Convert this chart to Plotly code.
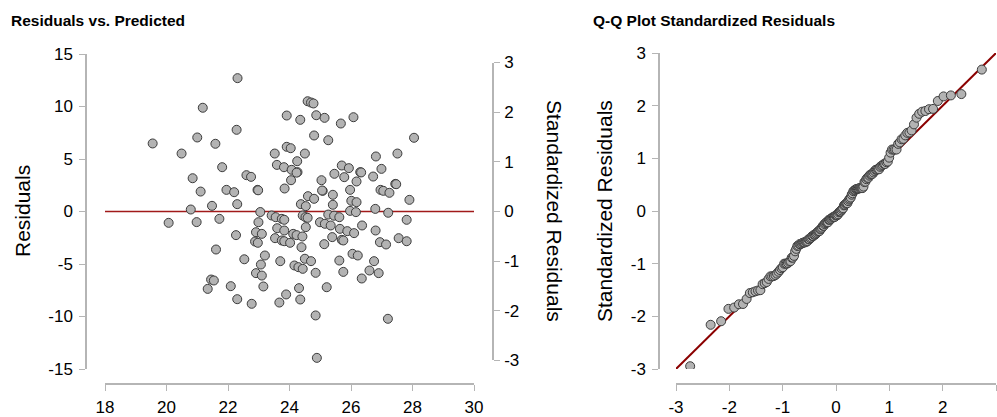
import plotly.graph_objects as go
from statistics import NormalDist

# ---- data ----
predicted = [
    22.31, 21.18, 22.28, 19.55, 21.00, 21.59, 20.49, 21.81, 20.85, 21.11,
    21.95, 22.20, 22.30, 20.79, 21.48, 20.07, 20.98, 21.72, 22.26, 21.61,
    21.45, 21.54, 21.34, 22.09, 22.30, 22.53, 24.59, 24.70, 24.78, 23.91,
    24.35, 24.87, 25.14, 24.80, 25.26, 23.91, 24.04, 23.52, 24.50, 24.25,
    23.59, 23.82, 24.07, 24.26, 24.23, 22.60, 22.75, 24.05, 25.46, 22.96,
    22.98, 23.84, 25.04, 25.08, 25.06, 24.60, 24.80, 24.37, 24.53, 25.41,
    25.41, 23.05, 26.08, 25.67, 28.05, 26.81, 27.51, 25.70, 25.93, 25.78,
    26.30, 26.33, 26.99, 26.72, 26.18, 27.44, 27.47, 25.97, 26.96, 27.05,
    27.25, 27.90, 26.01, 26.18, 25.97, 26.16, 26.79, 27.21, 23.42, 23.55,
    23.75, 23.83, 22.99, 24.43, 24.52, 24.59, 25.26, 24.99, 25.15, 25.34,
    24.53, 22.91, 23.10, 23.60, 23.83, 24.12, 24.23, 24.42, 22.88, 22.97,
    23.53, 23.75, 23.83, 24.02, 24.39, 25.13, 25.39, 23.20, 23.07, 23.70,
    24.50, 24.70, 24.16, 24.29, 24.43, 24.85, 22.91, 23.10, 23.15, 24.31,
    25.21, 22.77, 23.89, 23.67, 24.35, 24.85, 24.89, 25.45, 25.62, 27.81,
    25.64, 25.88, 26.10, 26.36, 26.80, 25.70, 25.75, 26.94, 27.14, 27.55,
    27.81, 26.05, 26.22, 25.62, 26.75, 25.75, 26.60, 26.90, 26.35, 27.20,
]
residuals = [
    12.70, 9.88, 7.78, 6.48, 7.05, 6.45, 5.52, 4.22, 3.17, 1.90,
    2.06, 1.84, 0.70, 0.19, 0.54, -1.08, -1.01, -0.70, -2.25, -3.62,
    -6.48, -6.57, -7.37, -7.11, -8.35, -4.55, 10.50, 10.38, 10.29, 9.14,
    8.73, 9.17, 8.92, 7.24, 6.79, 6.16, 6.03, 5.52, 5.52, 4.79,
    4.44, 4.22, 3.97, 3.75, 3.70, 3.46, 3.30, 2.98, 3.59, 2.06,
    2.02, 2.19, 2.98, 1.97, 2.00, 1.46, 1.21, 0.70, 0.51, 1.59,
    0.64, -0.05, 8.98, 8.38, 7.02, 5.24, 5.52, 4.38, 4.13, 3.27,
    3.75, 3.72, 4.06, 3.33, 2.86, 2.63, 2.60, 2.06, 2.06, 1.97,
    1.78, 1.11, 1.02, 0.89, 0.06, -0.06, 0.25, -0.12, -0.38, -0.54,
    -0.70, -0.79, -1.02, -0.38, -0.54, -0.60, -0.29, -1.02, -1.17, -1.33,
    -1.49, -1.97, -2.13, -1.59, -1.81, -2.13, -2.25, -2.38, -2.86, -2.98,
    -2.54, -2.76, -2.83, -2.98, -3.40, -3.11, -2.44, -4.19, -5.05, -4.73,
    -4.50, -4.73, -5.14, -5.30, -5.46, -5.84, -5.87, -6.10, -7.14, -7.30,
    -7.21, -8.79, -7.90, -8.67, -8.38, -9.90, -13.94, -0.40, -0.54, -0.79,
    -1.65, -1.87, -2.06, -1.33, -1.81, -2.70, -2.76, -2.92, -3.14, -2.54,
    -2.83, -4.03, -4.19, -4.67, -4.73, -5.75, -5.62, -5.87, -6.38, -10.22,
]
residual_sd = 4.73  # ratio of the residual and standardized axes

x_ticks_left = [18, 20, 22, 24, 26, 28, 30]
x_labels_left = ["18", "20", "22", "24", "26", "28", "30"]
y_ticks_left = [-15, -10, -5, 0, 5, 10, 15]
y_labels_left = ["-15", "-10", "-5", "0", "5", "10", "15"]
std_ticks = [-3, -2, -1, 0, 1, 2, 3]
std_labels = ["-3", "-2", "-1", "0", "1", "2", "3"]

# Q-Q data derived from the residuals
std_sorted = sorted(r / residual_sd for r in residuals)
n = len(std_sorted)
theoretical = [NormalDist().inv_cdf((i + 0.5) / n) for i in range(n)]

# ---- layout helpers ----
W, H = 997, 417
def fx(px):
    return px / W
def fy(py):
    return 1 - py / H

FONT = "Liberation Sans, Arial, sans-serif"
AXCOL = "#b5b5b5"
TICKFONT = dict(family=FONT, size=17, color="#000000")
MARKER = dict(size=9, color="#b3b3b3", line=dict(color="#3c3c3c", width=1))

fig = go.Figure()

# zero line in residual plot
fig.add_trace(go.Scatter(x=[x_ticks_left[0], x_ticks_left[-1]], y=[0, 0], mode="lines",
                         line=dict(color="#a11a1a", width=1.3), xaxis="x", yaxis="y",
                         hoverinfo="skip", showlegend=False))
fig.add_trace(go.Scatter(x=predicted, y=residuals, mode="markers", marker=MARKER,
                         xaxis="x", yaxis="y", showlegend=False))
# invisible trace to attach the standardized axis
fig.add_trace(go.Scatter(x=[24], y=[0], mode="markers", marker=dict(opacity=0),
                         xaxis="x", yaxis="y3", hoverinfo="skip", showlegend=False))

# Q-Q plot
fig.add_trace(go.Scatter(x=[std_ticks[0], std_ticks[-1]], y=[std_ticks[0], std_ticks[-1]], mode="lines",
                         line=dict(color="#8b0000", width=2), xaxis="x2", yaxis="y2",
                         hoverinfo="skip", showlegend=False))
fig.add_trace(go.Scatter(x=theoretical, y=std_sorted, mode="markers", marker=MARKER,
                         xaxis="x2", yaxis="y2", showlegend=False))

common = dict(showgrid=False, zeroline=False, showline=True, linecolor=AXCOL, linewidth=1.5,
              ticks="outside", ticklen=6, tickwidth=1.3, tickcolor=AXCOL, tickfont=TICKFONT,
              automargin=False, fixedrange=True)

y_top, y_bot = 54, 369
y_mid = (y_top + y_bot) / 2
px_per_unit = (y_bot - y_top) / (y_ticks_left[-1] - y_ticks_left[0])
std_half = 3 * residual_sd * px_per_unit

fig.update_layout(
    width=W, height=H,
    margin=dict(l=0, r=0, t=0, b=0),
    paper_bgcolor="white", plot_bgcolor="rgba(0,0,0,0)",
    xaxis=dict(domain=[fx(105), fx(474)], range=[18, 30], tickvals=x_ticks_left, ticktext=x_labels_left,
               anchor="free", position=fy(384), ticklabelstandoff=2, **common),
    yaxis=dict(domain=[fy(y_bot), fy(y_top)], range=[-15, 15], tickvals=y_ticks_left, ticktext=y_labels_left,
               anchor="free", position=fx(86), side="left", ticklabelstandoff=3, **common),
    yaxis3=dict(domain=[fy(y_mid + std_half), fy(y_mid - std_half)], range=[-3, 3], tickvals=std_ticks,
                ticktext=std_labels, anchor="free", position=fx(493), side="right", ticklabelstandoff=1, **common),
    xaxis2=dict(domain=[fx(676), fx(996)], range=[-3, 3], tickvals=std_ticks, ticktext=std_labels,
                anchor="free", position=fy(384), ticklabelstandoff=2, **common),
    yaxis2=dict(domain=[fy(369), fy(53)], range=[-3, 3], tickvals=std_ticks, ticktext=std_labels,
                anchor="free", position=fx(659), side="left", ticklabelstandoff=3, **common),
    annotations=[
        dict(text="<b>Residuals vs. Predicted</b>", x=fx(9), y=fy(20), xref="paper", yref="paper",
             xanchor="left", yanchor="middle", showarrow=False, font=dict(family=FONT, size=15.5, color="#000")),
        dict(text="<b>Q-Q Plot Standardized Residuals</b>", x=fx(591), y=fy(20), xref="paper", yref="paper",
             xanchor="left", yanchor="middle", showarrow=False, font=dict(family=FONT, size=15.5, color="#000")),
        dict(text="Residuals", x=fx(23), y=fy(211), xref="paper", yref="paper", textangle=-90,
             xanchor="center", yanchor="middle", showarrow=False, font=dict(family=FONT, size=21, color="#000")),
        dict(text="Standardized Residuals", x=fx(554), y=fy(211), xref="paper", yref="paper", textangle=90,
             xanchor="center", yanchor="middle", showarrow=False, font=dict(family=FONT, size=21, color="#000")),
        dict(text="Standardized Residuals", x=fx(605), y=fy(211), xref="paper", yref="paper", textangle=-90,
             xanchor="center", yanchor="middle", showarrow=False, font=dict(family=FONT, size=21, color="#000")),
    ],
)

fig.write_html("out.html", config={"displayModeBar": False},
               post_script="document.body.style.margin='0';document.body.style.overflow='hidden';")
